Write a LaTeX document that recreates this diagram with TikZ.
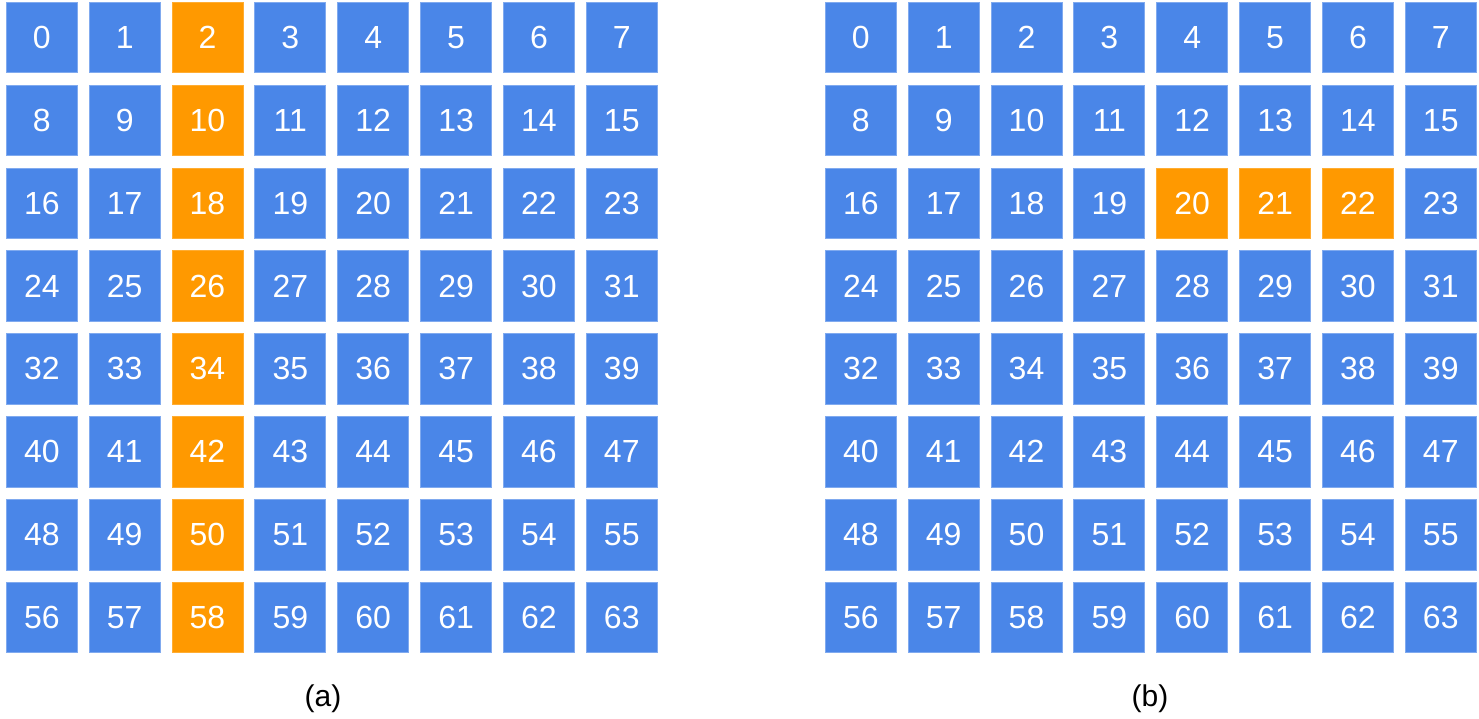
\documentclass[tikz,border=0pt]{standalone}
\usepackage{fontspec}
\setmainfont{Liberation Sans}
\usetikzlibrary{positioning}
\definecolor{cellblue}{HTML}{4A86E8}
\definecolor{cellorange}{HTML}{FF9900}
\tikzset{
    x=1pt, y=-1pt, % pixel-like units, y pointing down
    cell/.style={draw=cellblue!70!white, line width=0.8pt, fill=cellblue, text=white,
                 minimum width=71pt, minimum height=70.5pt, inner sep=0pt,
                 font=\fontsize{32}{38}\selectfont}, % one square of the grid
    hot/.style={fill=cellorange, draw=cellorange!80!white}, % highlighted square
    caption/.style={font=\fontsize{30}{36}\selectfont, text=black}, % sub-figure label
}
\begin{document}
\begin{tikzpicture}
    \useasboundingbox (0,0) rectangle (1479,718);
    % left grid: column 2 highlighted
    \foreach \r in {0,...,7} {
        \foreach \c in {0,...,7} {
            \pgfmathtruncatemacro{\n}{8*\r+\c}
            \ifnum\c=2
                \node[cell, hot] (a\n) at ({41.8+82.85*\c},{37.5+82.86*\r}) {\n};
            \else
                \node[cell] (a\n) at ({41.8+82.85*\c},{37.5+82.86*\r}) {\n};
            \fi
        }
    }
    % right grid: 20, 21, 22 highlighted
    \foreach \r in {0,...,7} {
        \foreach \c in {0,...,7} {
            \pgfmathtruncatemacro{\n}{8*\r+\c}
            \ifnum\n>19 \ifnum\n<23
                \node[cell, hot] (b\n) at ({860.8+82.85*\c},{37.5+82.86*\r}) {\n};
            \else
                \node[cell] (b\n) at ({860.8+82.85*\c},{37.5+82.86*\r}) {\n};
            \fi \else
                \node[cell] (b\n) at ({860.8+82.85*\c},{37.5+82.86*\r}) {\n};
            \fi
        }
    }
    \node[caption] (capa) at (323,699) {(a)};
    \node[caption] (capb) at (1150,699) {(b)};
\end{tikzpicture}
\end{document}
